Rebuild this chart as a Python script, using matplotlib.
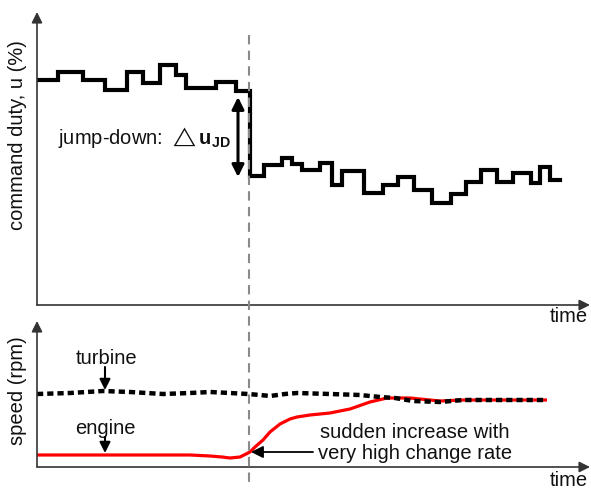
import matplotlib
matplotlib.use("Agg")
import matplotlib.pyplot as plt
from matplotlib.lines import Line2D
import matplotlib.transforms as mtransforms

plt.rcParams['font.family'] = ['Liberation Sans', 'DejaVu Sans']
plt.rcParams['mathtext.fontset'] = 'custom'
plt.rcParams['mathtext.rm'] = 'Liberation Sans'
plt.rcParams['mathtext.bf'] = 'Liberation Sans:bold'
plt.rcParams['mathtext.fallback'] = 'stixsans'

# ---- data ----
# command duty: step starts (time) and levels
duty_t = [0, 21, 46, 68, 90, 106, 123, 139, 149, 179, 199, 213, 227, 245, 255, 265,
          283, 295, 305, 327, 346, 361, 377, 395, 414, 429, 444, 460, 476, 494, 503, 513, 523]
duty_u = [225, 233, 225, 215, 233, 222, 240, 230, 217, 223, 214, 129, 140, 147, 141, 135,
          142, 120, 134, 112, 120, 128, 115, 102, 111, 123, 135, 123, 132, 122, 138, 125, 125]

turbine_t = [0, 33, 66, 93, 126, 153, 173, 193, 211, 223, 233, 248, 260, 293, 323, 343,
             358, 376, 403, 426, 463, 510]
turbine_s = [73, 74, 76, 75, 73, 74, 75, 74, 73, 72, 71, 73, 74, 73, 72, 70,
             69, 66, 65, 67, 67, 67]

engine_t = [0, 63, 153, 173, 185, 193, 203, 213, 218, 226, 233, 243, 253, 260, 273, 293,
            313, 333, 350, 373, 403, 426, 463, 510]
engine_s = [12, 12, 12, 11, 10, 9, 10, 15, 20, 27, 35, 43, 48, 50, 52, 54,
            58, 65, 69, 69, 66, 67, 67, 67]

jump_time = 212
labels = {
    'duty': 'command duty, u (%)',
    'speed': 'speed (rpm)',
    'time': 'time',
    'jump': r'jump-down: $\triangle\mathbf{u}_{\mathbf{JD}}$',
    'turbine': 'turbine',
    'engine': 'engine',
    'sudden': 'sudden increase with\nvery high change rate',
}

W, H = 591, 488
fig = plt.figure(figsize=(W / 100, H / 100), dpi=100)

def fx(px):
    return px / W

def fy(py):
    return 1 - py / H

ax1 = fig.add_axes([fx(37), fy(305), fx(590) - fx(37), fy(12) - fy(305)])
ax2 = fig.add_axes([fx(37), fy(467), fx(590) - fx(37), fy(321) - fy(467)])

TXT = '#111111'
FS = 14.5

for ax in (ax1, ax2):
    for s in ax.spines.values():
        s.set_visible(False)
    ax.set_xticks([])
    ax.set_yticks([])
    ax.patch.set_alpha(0)
    ax.set_xlim(0, 553)
    ax.annotate('', xy=(1, 0), xytext=(0, 0), xycoords='axes fraction',
                arrowprops=dict(arrowstyle='-|>', color='#333333', lw=1.2,
                                mutation_scale=16, shrinkA=0, shrinkB=0))
    ax.annotate('', xy=(0, 1), xytext=(0, 0), xycoords='axes fraction',
                arrowprops=dict(arrowstyle='-|>', color='#333333', lw=1.2,
                                mutation_scale=16, shrinkA=0, shrinkB=0))

ax1.set_ylim(0, 293)
ax2.set_ylim(0, 146)

# top: step line
ax1.plot(duty_t, duty_u, drawstyle='steps-post', color='black', lw=3,
         solid_joinstyle='miter')

# jump arrow
ax1.annotate('', xy=(201, 128), xytext=(201, 208), xycoords='data',
             arrowprops=dict(arrowstyle='<|-|>', color='black', lw=2.2,
                             mutation_scale=18, shrinkA=0, shrinkB=0))
ax1.text(194, 167, labels['jump'], ha='right', va='center', fontsize=FS, color=TXT)

# bottom lines
ax2.plot(engine_t, engine_s, color='#ff0000', lw=2.3, solid_capstyle='butt',
         solid_joinstyle='round')
ax2.plot(turbine_t, turbine_s, color='black', lw=3.2, linestyle=(0, (1.4, 0.9)))

ax2.text(70, 109, labels['turbine'], ha='center', va='center', fontsize=FS, color=TXT)
ax2.annotate('', xy=(68, 77), xytext=(68, 100), xycoords='data',
             arrowprops=dict(arrowstyle='-|>', color='black', lw=1.5,
                             mutation_scale=16, shrinkA=0, shrinkB=0))
ax2.text(68, 39, labels['engine'], ha='center', va='center', fontsize=FS, color=TXT)
ax2.annotate('', xy=(68, 14), xytext=(68, 30), xycoords='data',
             arrowprops=dict(arrowstyle='-|>', color='black', lw=1.5,
                             mutation_scale=16, shrinkA=0, shrinkB=0))
ax2.text(378, 24, labels['sudden'], ha='center', va='center', fontsize=FS,
         color=TXT, linespacing=1.1)
ax2.annotate('', xy=(214, 15), xytext=(276, 15), xycoords='data',
             arrowprops=dict(arrowstyle='-|>', color='black', lw=1.3,
                             mutation_scale=18, shrinkA=0, shrinkB=0))

# dashed vertical line through both panels
tr = mtransforms.blended_transform_factory(ax1.transData, fig.transFigure)
fig.add_artist(Line2D([jump_time, jump_time], [fy(35), 0], transform=tr,
                      color='#8a8a8a', lw=1.5, linestyle=(0, (4.5, 3))))

# labels
fig.text(fx(18), fy(135), labels['duty'], rotation=90, ha='center', va='center',
         fontsize=FS, color=TXT)
fig.text(fx(18), fy(391), labels['speed'], rotation=90, ha='center', va='center',
         fontsize=FS, color=TXT)
fig.text(fx(569), fy(317), labels['time'], ha='center', va='center', fontsize=FS, color=TXT)
fig.text(fx(569), fy(480), labels['time'], ha='center', va='center', fontsize=FS, color=TXT)

fig.savefig('out.png', dpi=100)
